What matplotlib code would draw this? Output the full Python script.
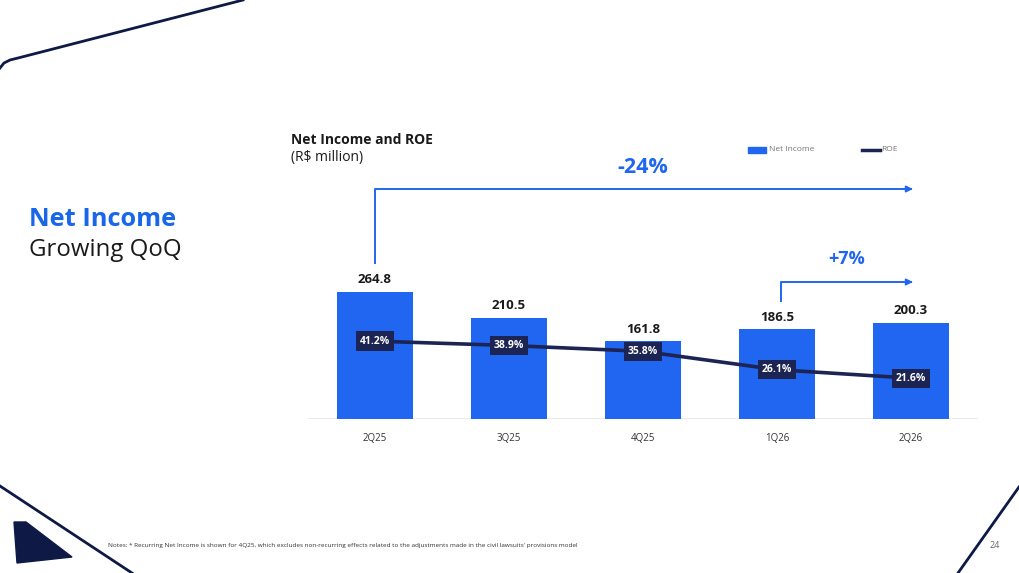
import numpy as np
import matplotlib.pyplot as plt
from matplotlib.patches import Polygon, Rectangle
from matplotlib.lines import Line2D

plt.rcParams['font.family'] = ['Open Sans', 'DejaVu Sans']

# data
quarters = ['2Q25', '3Q25', '4Q25', '1Q26', '2Q26']
net_income = [264.8, 210.5, 161.8, 186.5, 200.3]
roe = [41.2, 38.9, 35.8, 26.1, 21.6]
change_total = '-24%'
change_qoq = '+7%'

BLUE = '#2166f0'
NAVY = '#1b2452'
DARK = '#0e1a45'

W, H = 1019, 573
fig = plt.figure(figsize=(W / 100, H / 100), dpi=100)


def fx(x):
    return x / W


def fy(y):
    return 1 - y / H


# chart area (pixel layout)
ax_left, ax_right, ax_top, ax_bot = 308, 978, 270, 419
ax = fig.add_axes([fx(ax_left), fy(ax_bot), (ax_right - ax_left) / W, (ax_bot - ax_top) / H])
ax2 = ax.twinx()

bar_scale = 0.48   # px per R$ million
roe_scale = 1.89   # px per ROE point
ax.set_ylim(0, (ax_bot - ax_top) / bar_scale)
ax2.set_ylim(0, (ax_bot - ax_top) / roe_scale)
ax.set_xlim(-0.5, len(quarters) - 0.5)

x = np.arange(len(quarters))
ax.bar(x, net_income, width=0.56, color=BLUE, zorder=2)
for xi, v in zip(x, net_income):
    ax.annotate(f'{v:.1f}', (xi, v), xytext=(0, 4), textcoords='offset points',
                ha='center', va='bottom', fontsize=9.5, fontweight='bold', color='#1a1a1a')

ax2.plot(x, roe, color=NAVY, lw=2.6, zorder=3, solid_capstyle='round')
for xi, r in zip(x, roe):
    ax2.text(xi, r, f'{r:.1f}%', ha='center', va='center', fontsize=7.5, fontweight='bold',
             color='white', zorder=4,
             bbox=dict(boxstyle='square,pad=0.4', facecolor=NAVY, edgecolor='none'))

for a in (ax, ax2):
    for s in a.spines.values():
        s.set_visible(False)
    a.set_yticks([])
ax.axhline(0, color='#e6e6e6', lw=1.2, zorder=1)
ax.set_xticks(x)
ax.set_xticklabels(quarters, fontsize=7, color='#333333')
ax.tick_params(axis='x', length=0, pad=10)


# change arrows (pixel layout converted to data)
def dy(ypx):
    return (ax_bot - ypx) / bar_scale


arrow_end = len(quarters) - 1 + 0.035
ax.plot([0, 0, arrow_end - 0.05], [dy(263), dy(189), dy(189)], color=BLUE, lw=1.4, clip_on=False)
ax.annotate('', xy=(arrow_end, dy(189)), xytext=(arrow_end - 0.06, dy(189)),
            arrowprops=dict(arrowstyle='-|>', color=BLUE, lw=1.4, mutation_scale=9),
            annotation_clip=False)
ax.text(2, dy(168), change_total, ha='center', va='center', fontsize=15.5,
        fontweight='bold', color=BLUE, clip_on=False)

x7 = 3.03
ax.plot([x7, x7, arrow_end - 0.05], [dy(301), dy(282), dy(282)], color=BLUE, lw=1.4, clip_on=False)
ax.annotate('', xy=(arrow_end, dy(282)), xytext=(arrow_end - 0.06, dy(282)),
            arrowprops=dict(arrowstyle='-|>', color=BLUE, lw=1.4, mutation_scale=9),
            annotation_clip=False)
ax.text(3.52, dy(259), change_qoq, ha='center', va='center', fontsize=13,
        fontweight='bold', color=BLUE, clip_on=False)

# titles
fig.text(fx(291), fy(140), 'Net Income and ROE', fontsize=10, fontweight='bold',
         color='#1a1a1a', va='center')
fig.text(fx(291), fy(158), '(R$ million)', fontsize=10, color='#1a1a1a', va='center')

# legend
fig.patches.append(Rectangle((fx(748), fy(153)), 18 / W, 6 / H, color=BLUE,
                             transform=fig.transFigure))
fig.text(fx(769), fy(150), 'Net Income', fontsize=6, color='#777777', va='center')
fig.lines.append(Line2D([fx(862), fx(880)], [fy(150), fy(150)], color=NAVY, lw=2.5,
                        transform=fig.transFigure))
fig.text(fx(881), fy(150), 'ROE', fontsize=6, color='#777777', va='center')

# left heading
fig.text(fx(29), fy(219), 'Net Income', fontsize=18.3, fontweight='bold', color='#1a66e8', va='center')
fig.text(fx(29), fy(250), 'Growing QoQ', fontsize=17.3, color='#1a1a1a', va='center')

# footer
fig.text(fx(108), fy(545), "Notes: * Recurring Net Income is shown for 4Q25, which excludes non-recurring "
         "effects related to the adjustments made in the civil lawsuits' provisions model",
         fontsize=4.6, color='#333333', va='center')
fig.text(fx(990), fy(546), '24', fontsize=6.5, color='#666666', va='center')

# decorative lines
top_x = [0, 4, 10, 20, 243]
top_y = [68, 63, 60, 57.5, 0]
fig.lines.append(Line2D([fx(v) for v in top_x], [fy(v) for v in top_y], color=DARK, lw=2,
                        transform=fig.transFigure))
fig.lines.append(Line2D([fx(0), fx(132)], [fy(486), fy(573)], color=DARK, lw=2,
                        transform=fig.transFigure))
fig.lines.append(Line2D([fx(958), fx(1019)], [fy(573), fy(487)], color=DARK, lw=2,
                        transform=fig.transFigure))
tri = [(14, 522), (26, 522), (72, 557), (17, 563)]
fig.patches.append(Polygon([(fx(a), fy(b)) for a, b in tri], closed=True, color=DARK,
                           transform=fig.transFigure))

fig.savefig('out.png', dpi=100, facecolor='white')
